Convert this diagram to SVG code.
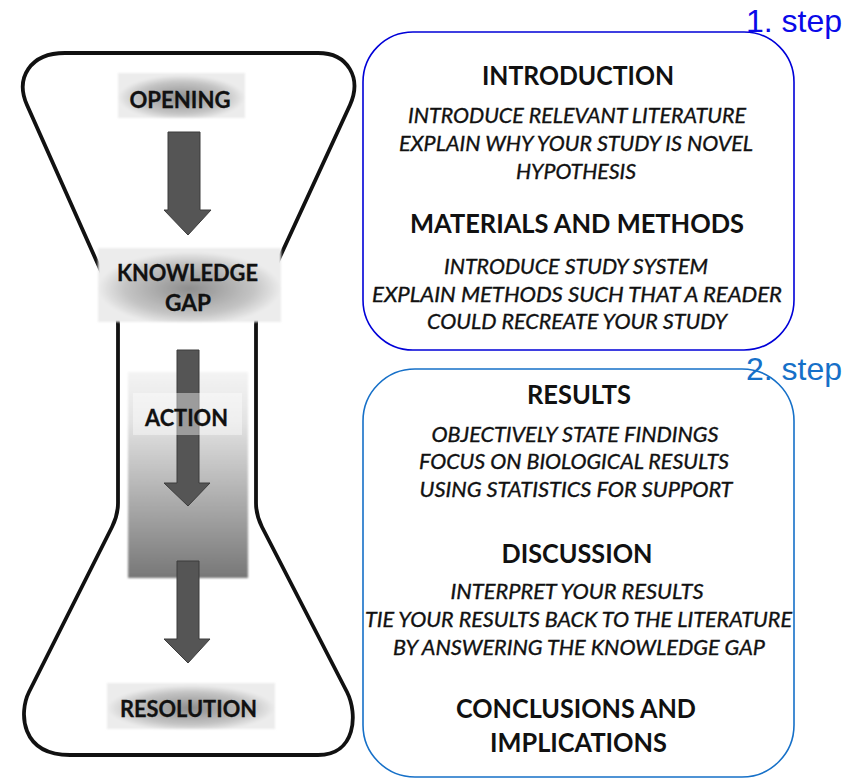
<svg xmlns="http://www.w3.org/2000/svg" width="864" height="779" viewBox="0 0 864 779">
<style>
.lbl{font-family:Lato,"Open Sans","Liberation Sans",sans-serif;font-weight:bold;font-size:23px;fill:#111;stroke:#111;stroke-width:0.3;text-anchor:middle}
.hd{font-family:Lato,"Open Sans","Liberation Sans",sans-serif;font-weight:bold;font-size:26px;fill:#111;text-anchor:middle}
.it{font-family:Lato,"Open Sans","Liberation Sans",sans-serif;font-style:italic;font-size:20.5px;fill:#111;stroke:#111;stroke-width:0.35;text-anchor:middle}
.step{font-family:"Liberation Sans",Arial,sans-serif;font-size:32px}
.arrow{fill:#555;stroke:#3c3c3c;stroke-width:1}
.box{fill:none;stroke-width:1.6}
</style>
<defs>
<radialGradient id="lg" cx="0.5" cy="0.55" r="0.5">
<stop offset="0" stop-color="#8e8e8e"/>
<stop offset="0.7" stop-color="#c4c4c4"/>
<stop offset="1" stop-color="#ececec"/>
</radialGradient>
<linearGradient id="ag" x1="0" y1="0" x2="0" y2="1">
<stop offset="0" stop-color="#f4f4f4"/>
<stop offset="0.25" stop-color="#e2e2e2"/>
<stop offset="0.6" stop-color="#b0b0b0"/>
<stop offset="1" stop-color="#777"/>
</linearGradient>
<filter id="soft" x="-5%" y="-5%" width="110%" height="110%">
<feGaussianBlur stdDeviation="1.2"/>
</filter>
</defs>
<rect width="864" height="779" fill="#fff"/>

<g id="hourglass">
<path d="M 65,53 L 318,53 C 348,53 362,78 350,105 L 261,298 Q 256,310 256,325 L 256,503 Q 256,515 262,527 L 347,692 C 358,714 356,755 318,755 L 70,755 C 20,755 19,712 29,692 L 112,527 Q 118,515 118,503 L 118,325 Q 118,310 113,298 L 27,105 C 15,78 30,53 65,53 Z" fill="none" stroke="#111" stroke-width="3.8" stroke-linejoin="round"/>
</g>

<g id="action-panel">
<rect x="128" y="372" width="120" height="206" fill="url(#ag)" filter="url(#soft)"/>
</g>

<g id="connectors">
<path class="arrow" d="M168,132 H200 V210 H211 L188,235 L164,210 H168 Z"/>
<path class="arrow" d="M177,350 H199 V483 H210 L188,506 L164,483 H177 Z"/>
<path class="arrow" d="M177,561 H199 V639 H210 L188,663 L164,639 H177 Z"/>
</g>

<g id="node-opening">
<rect x="118" y="73" width="127" height="45" fill="url(#lg)" filter="url(#soft)"/>
<text class="lbl" x="180" y="108" textLength="101" lengthAdjust="spacingAndGlyphs">OPENING</text>
</g>

<g id="node-knowledge-gap">
<rect x="98" y="248" width="183" height="74" fill="url(#lg)" filter="url(#soft)"/>
<text class="lbl" x="187.5" y="281" textLength="141" lengthAdjust="spacingAndGlyphs">KNOWLEDGE</text>
<text class="lbl" x="188" y="311" textLength="46" lengthAdjust="spacingAndGlyphs">GAP</text>
</g>

<g id="node-action">
<rect x="133" y="393" width="109" height="42" fill="#fff" fill-opacity="0.42"/>
<text class="lbl" x="186.5" y="426" textLength="83" lengthAdjust="spacingAndGlyphs">ACTION</text>
</g>

<g id="node-resolution">
<rect x="107" y="683" width="168" height="46" fill="url(#lg)" filter="url(#soft)"/>
<text class="lbl" x="188.5" y="717" textLength="137" lengthAdjust="spacingAndGlyphs">RESOLUTION</text>
</g>

<g id="box-step1">
<rect class="box" x="363" y="32" width="431" height="318" rx="50" stroke="#0000d8"/>
<text class="hd" x="578" y="85" textLength="192" lengthAdjust="spacingAndGlyphs">INTRODUCTION</text>
<text class="it" x="577" y="123" textLength="338" lengthAdjust="spacingAndGlyphs">INTRODUCE RELEVANT LITERATURE</text>
<text class="it" x="576" y="151" textLength="354" lengthAdjust="spacingAndGlyphs">EXPLAIN WHY YOUR STUDY IS NOVEL</text>
<text class="it" x="576" y="179" textLength="120" lengthAdjust="spacingAndGlyphs">HYPOTHESIS</text>
<text class="hd" x="577" y="233" textLength="334" lengthAdjust="spacingAndGlyphs">MATERIALS AND METHODS</text>
<text class="it" x="576" y="274" textLength="264" lengthAdjust="spacingAndGlyphs">INTRODUCE STUDY SYSTEM</text>
<text class="it" x="577" y="302" textLength="410" lengthAdjust="spacingAndGlyphs">EXPLAIN METHODS SUCH THAT A READER</text>
<text class="it" x="577" y="329" textLength="300" lengthAdjust="spacingAndGlyphs">COULD RECREATE YOUR STUDY</text>
<text class="step" x="746" y="32" fill="#0a0ae8">1. step</text>
</g>

<g id="box-step2">
<rect class="box" x="363" y="369" width="431" height="408" rx="52" stroke="#1670c8"/>
<text class="hd" x="579" y="404" textLength="104" lengthAdjust="spacingAndGlyphs">RESULTS</text>
<text class="it" x="575" y="442" textLength="287" lengthAdjust="spacingAndGlyphs">OBJECTIVELY STATE FINDINGS</text>
<text class="it" x="574" y="469" textLength="310" lengthAdjust="spacingAndGlyphs">FOCUS ON BIOLOGICAL RESULTS</text>
<text class="it" x="576" y="497" textLength="313" lengthAdjust="spacingAndGlyphs">USING STATISTICS FOR SUPPORT</text>
<text class="hd" x="577" y="563" textLength="151" lengthAdjust="spacingAndGlyphs">DISCUSSION</text>
<text class="it" x="577" y="599" textLength="253" lengthAdjust="spacingAndGlyphs">INTERPRET YOUR RESULTS</text>
<text class="it" x="578.5" y="627" textLength="427" lengthAdjust="spacingAndGlyphs">TIE YOUR RESULTS BACK TO THE LITERATURE</text>
<text class="it" x="579" y="655" textLength="372" lengthAdjust="spacingAndGlyphs">BY ANSWERING THE KNOWLEDGE GAP</text>
<text class="hd" x="576" y="718" textLength="240" lengthAdjust="spacingAndGlyphs">CONCLUSIONS AND</text>
<text class="hd" x="578.5" y="752" textLength="177" lengthAdjust="spacingAndGlyphs">IMPLICATIONS</text>
<text class="step" x="746" y="380" fill="#1670c8">2. step</text>
</g>
</svg>
